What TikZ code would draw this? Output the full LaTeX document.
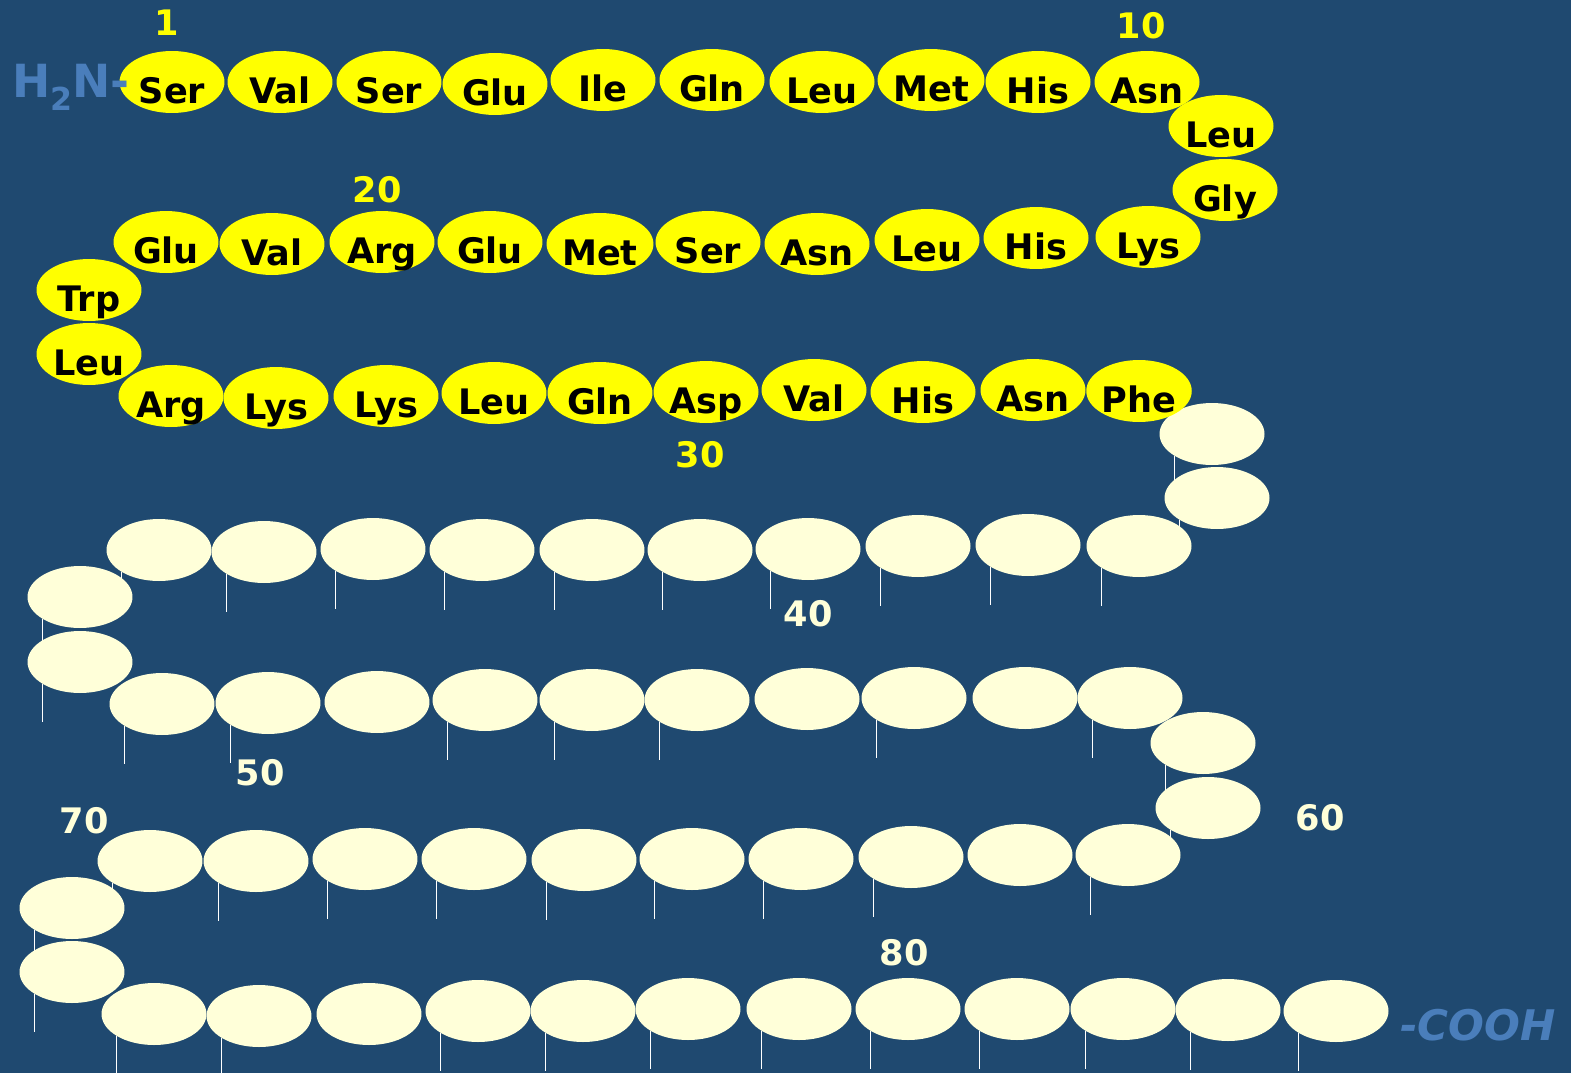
\documentclass[tikz,border=0pt]{standalone}
\usepackage{fontspec}
\setmainfont{DejaVu Sans}
\usepackage{xcolor}
\usetikzlibrary{shapes.geometric}
\definecolor{bgblue}{HTML}{1F4970}
\definecolor{knownres}{HTML}{FFFF00}
\definecolor{paleres}{HTML}{FFFFD9}
\definecolor{endblue}{HTML}{4A7EBB}
\pgfdeclarelayer{bg}
\pgfdeclarelayer{sticks}
\pgfsetlayers{bg,sticks,main}

\begin{document}
\begin{tikzpicture}[x=0.02cm, y=-0.02cm,
  res/.style={ellipse, minimum width=2.1cm, minimum height=1.24cm, inner sep=0pt},
  known/.style={res, fill=knownres, font=\bfseries\fontsize{20}{24}\selectfont, text height=24pt, text depth=0pt},
  pale/.style={res, fill=paleres},
  resnum/.style={font=\bfseries\fontsize{20}{24}\selectfont},
  chainend/.style={text=endblue, inner sep=0pt},
  stick/.style={white, line width=0.8pt}]
% === background ===
\begin{pgfonlayer}{bg}
\fill[bgblue] (0,0) rectangle (1571,1073);
\end{pgfonlayer}

% === unknown part of the chain: residues 35-84 ===
\foreach \i/\x/\y in {35/1212/434, 36/1217/498,
  37/1139/546, 38/1028/545, 39/918/546, 40/808/549, 41/700/550,
  42/592/550, 43/482/550, 44/373/549, 45/264/552, 46/159/550,
  47/80/597, 48/80/662,
  49/162/704, 50/268/703, 51/377/702, 52/485/700, 53/592/700,
  54/697/700, 55/807/699, 56/914/698, 57/1025/698, 58/1130/698,
  59/1203/743, 60/1208/808,
  61/1128/855, 62/1020/855, 63/911/857, 64/801/859, 65/692/859,
  66/584/860, 67/474/859, 68/365/859, 69/256/861, 70/150/861,
  71/72/908, 72/72/972,
  73/154/1014, 74/259/1016, 75/369/1014, 76/478/1011, 77/583/1011,
  78/688/1009, 79/799/1009, 80/908/1009, 81/1017/1009, 82/1123/1009,
  83/1228/1010, 84/1336/1011}
  \node[pale] (r\i) at (\x,\y) {};

% === known sequence: residues 1-34 ===
\foreach \i/\x/\y/\aa in {1/172/82/Ser, 2/280/82/Val, 3/389/82/Ser,
  4/495/84/Glu, 5/603/80/Ile, 6/712/80/Gln, 7/822/82/Leu, 8/931/80/Met,
  9/1038/82/His, 10/1147/82/Asn, 11/1221/126/Leu, 12/1225/190/Gly,
  13/1148/237/Lys, 14/1036/238/His, 15/927/240/Leu, 16/817/244/Asn,
  17/708/242/Ser, 18/600/244/Met, 19/490/242/Glu, 20/382/242/Arg,
  21/272/244/Val, 22/166/242/Glu, 23/89/290/Trp, 24/89/354/Leu,
  25/171/396/Arg, 26/276/398/Lys, 27/386/396/Lys, 28/494/393/Leu,
  29/600/393/Gln, 30/706/392/Asp, 31/814/390/Val, 32/923/392/His,
  33/1033/390/Asn, 34/1139/391/Phe}
  \node[known] (r\i) at (\x,\y) {\aa};

% side chains hanging below the unknown residues
\begin{pgfonlayer}{sticks}
\foreach \i in {35,36,37,38,39,40,41,42,43,44,45,46,47,48,49,50,52,53,54,56,58,
  59,60,61,63,64,65,66,67,68,69,70,71,72,73,74,76,77,78,79,80,81,82,83,84}
  \draw[stick] (r\i.south west) -- ++(0,38);
\end{pgfonlayer}

% === residue numbers ===
\foreach \n/\x/\y in {1/167/23, 10/1141/26, 20/377/190, 30/700/455}
  \node[resnum, text=knownres] (n\n) at (\x,\y) {\n};
\foreach \n/\x/\y in {40/808/614, 50/260/773, 60/1320/818, 70/84/821, 80/904/953}
  \node[resnum, text=paleres] (n\n) at (\x,\y) {\n};

% === chain ends ===
\node[chainend, font=\bfseries\fontsize{26}{28}\selectfont, anchor=base east]
  (amino) at (130,97) {H\raisebox{-0.3em}{\fontsize{18}{18}\selectfont 2}N-};
\node[chainend, font=\bfseries\itshape\fontsize{24}{26}\selectfont, anchor=base west]
  (carboxyl) at (1400,1040) {-COOH};
\end{tikzpicture}
\end{document}
